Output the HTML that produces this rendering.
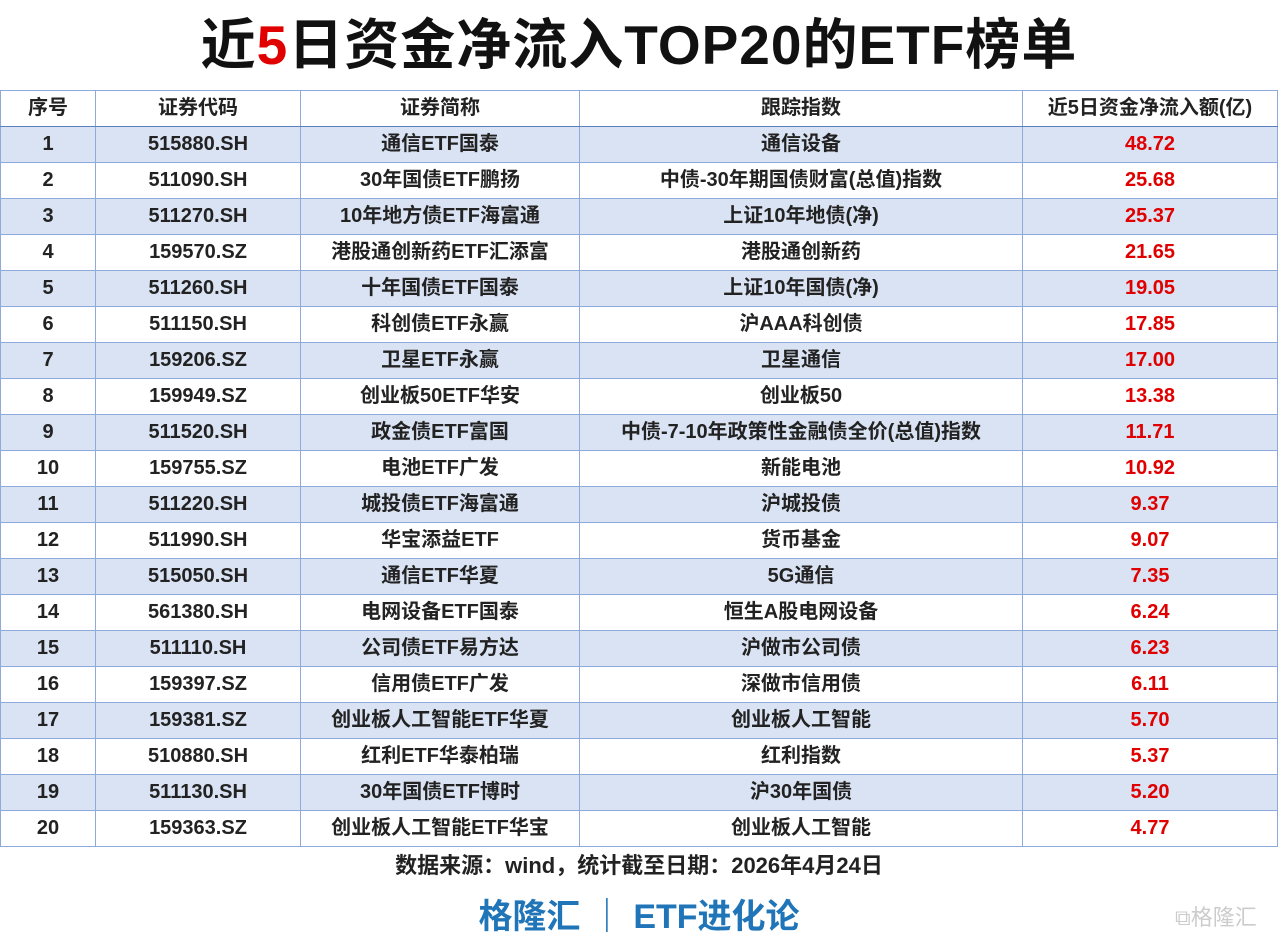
<!DOCTYPE html><html><head><meta charset="utf-8"><style>
body{margin:0;width:1278px;height:941px;background:#fff;font-family:"Liberation Sans","Noto Sans CJK SC",sans-serif;position:relative;overflow:hidden}
.t{position:absolute;top:9px;left:0;width:1278px;text-align:center;font-size:55px;font-weight:bold;color:#111;line-height:72px;letter-spacing:1px}
table{position:absolute;left:0;top:90px;border-collapse:collapse;table-layout:fixed;width:1277px}
td{border:1px solid #8eaadb;height:35px;padding:0;text-align:center;font-size:20px;color:#222;line-height:35px;white-space:nowrap;font-weight:bold}
tr.h td{border-bottom:1px solid #5b7fc0}
tr:nth-child(even) td{background:#dae3f3}
td.r{color:#e00000}
.s{position:absolute;top:848px;left:0;width:1278px;text-align:center;font-size:22px;color:#222;font-weight:bold}
.f{position:absolute;top:889px;left:0;width:1278px;text-align:center;font-size:34px;color:#1f75b8;font-weight:bold}
.w{position:absolute;left:1175px;top:900px;font-size:22px;color:#ccc}
</style></head><body>
<div class="t">近<span style="color:#e00000">5</span>日资金净流入TOP20的ETF榜单</div>
<table>
<colgroup><col style="width:95px"><col style="width:205px"><col style="width:279px"><col style="width:443px"><col style="width:255px"></colgroup>
<tr class="h"><td>序号</td><td>证券代码</td><td>证券简称</td><td>跟踪指数</td><td>近5日资金净流入额(亿)</td></tr>
<tr><td>1</td><td>515880.SH</td><td>通信ETF国泰</td><td>通信设备</td><td class="r">48.72</td></tr>
<tr><td>2</td><td>511090.SH</td><td>30年国债ETF鹏扬</td><td>中债-30年期国债财富(总值)指数</td><td class="r">25.68</td></tr>
<tr><td>3</td><td>511270.SH</td><td>10年地方债ETF海富通</td><td>上证10年地债(净)</td><td class="r">25.37</td></tr>
<tr><td>4</td><td>159570.SZ</td><td>港股通创新药ETF汇添富</td><td>港股通创新药</td><td class="r">21.65</td></tr>
<tr><td>5</td><td>511260.SH</td><td>十年国债ETF国泰</td><td>上证10年国债(净)</td><td class="r">19.05</td></tr>
<tr><td>6</td><td>511150.SH</td><td>科创债ETF永赢</td><td>沪AAA科创债</td><td class="r">17.85</td></tr>
<tr><td>7</td><td>159206.SZ</td><td>卫星ETF永赢</td><td>卫星通信</td><td class="r">17.00</td></tr>
<tr><td>8</td><td>159949.SZ</td><td>创业板50ETF华安</td><td>创业板50</td><td class="r">13.38</td></tr>
<tr><td>9</td><td>511520.SH</td><td>政金债ETF富国</td><td>中债-7-10年政策性金融债全价(总值)指数</td><td class="r">11.71</td></tr>
<tr><td>10</td><td>159755.SZ</td><td>电池ETF广发</td><td>新能电池</td><td class="r">10.92</td></tr>
<tr><td>11</td><td>511220.SH</td><td>城投债ETF海富通</td><td>沪城投债</td><td class="r">9.37</td></tr>
<tr><td>12</td><td>511990.SH</td><td>华宝添益ETF</td><td>货币基金</td><td class="r">9.07</td></tr>
<tr><td>13</td><td>515050.SH</td><td>通信ETF华夏</td><td>5G通信</td><td class="r">7.35</td></tr>
<tr><td>14</td><td>561380.SH</td><td>电网设备ETF国泰</td><td>恒生A股电网设备</td><td class="r">6.24</td></tr>
<tr><td>15</td><td>511110.SH</td><td>公司债ETF易方达</td><td>沪做市公司债</td><td class="r">6.23</td></tr>
<tr><td>16</td><td>159397.SZ</td><td>信用债ETF广发</td><td>深做市信用债</td><td class="r">6.11</td></tr>
<tr><td>17</td><td>159381.SZ</td><td>创业板人工智能ETF华夏</td><td>创业板人工智能</td><td class="r">5.70</td></tr>
<tr><td>18</td><td>510880.SH</td><td>红利ETF华泰柏瑞</td><td>红利指数</td><td class="r">5.37</td></tr>
<tr><td>19</td><td>511130.SH</td><td>30年国债ETF博时</td><td>沪30年国债</td><td class="r">5.20</td></tr>
<tr><td>20</td><td>159363.SZ</td><td>创业板人工智能ETF华宝</td><td>创业板人工智能</td><td class="r">4.77</td></tr>
</table>
<div class="s">数据来源：wind，统计截至日期：2026年4月24日</div>
<div class="f">格隆汇 ｜ ETF进化论</div>
<div class="w">⧉格隆汇</div>
</body></html>
